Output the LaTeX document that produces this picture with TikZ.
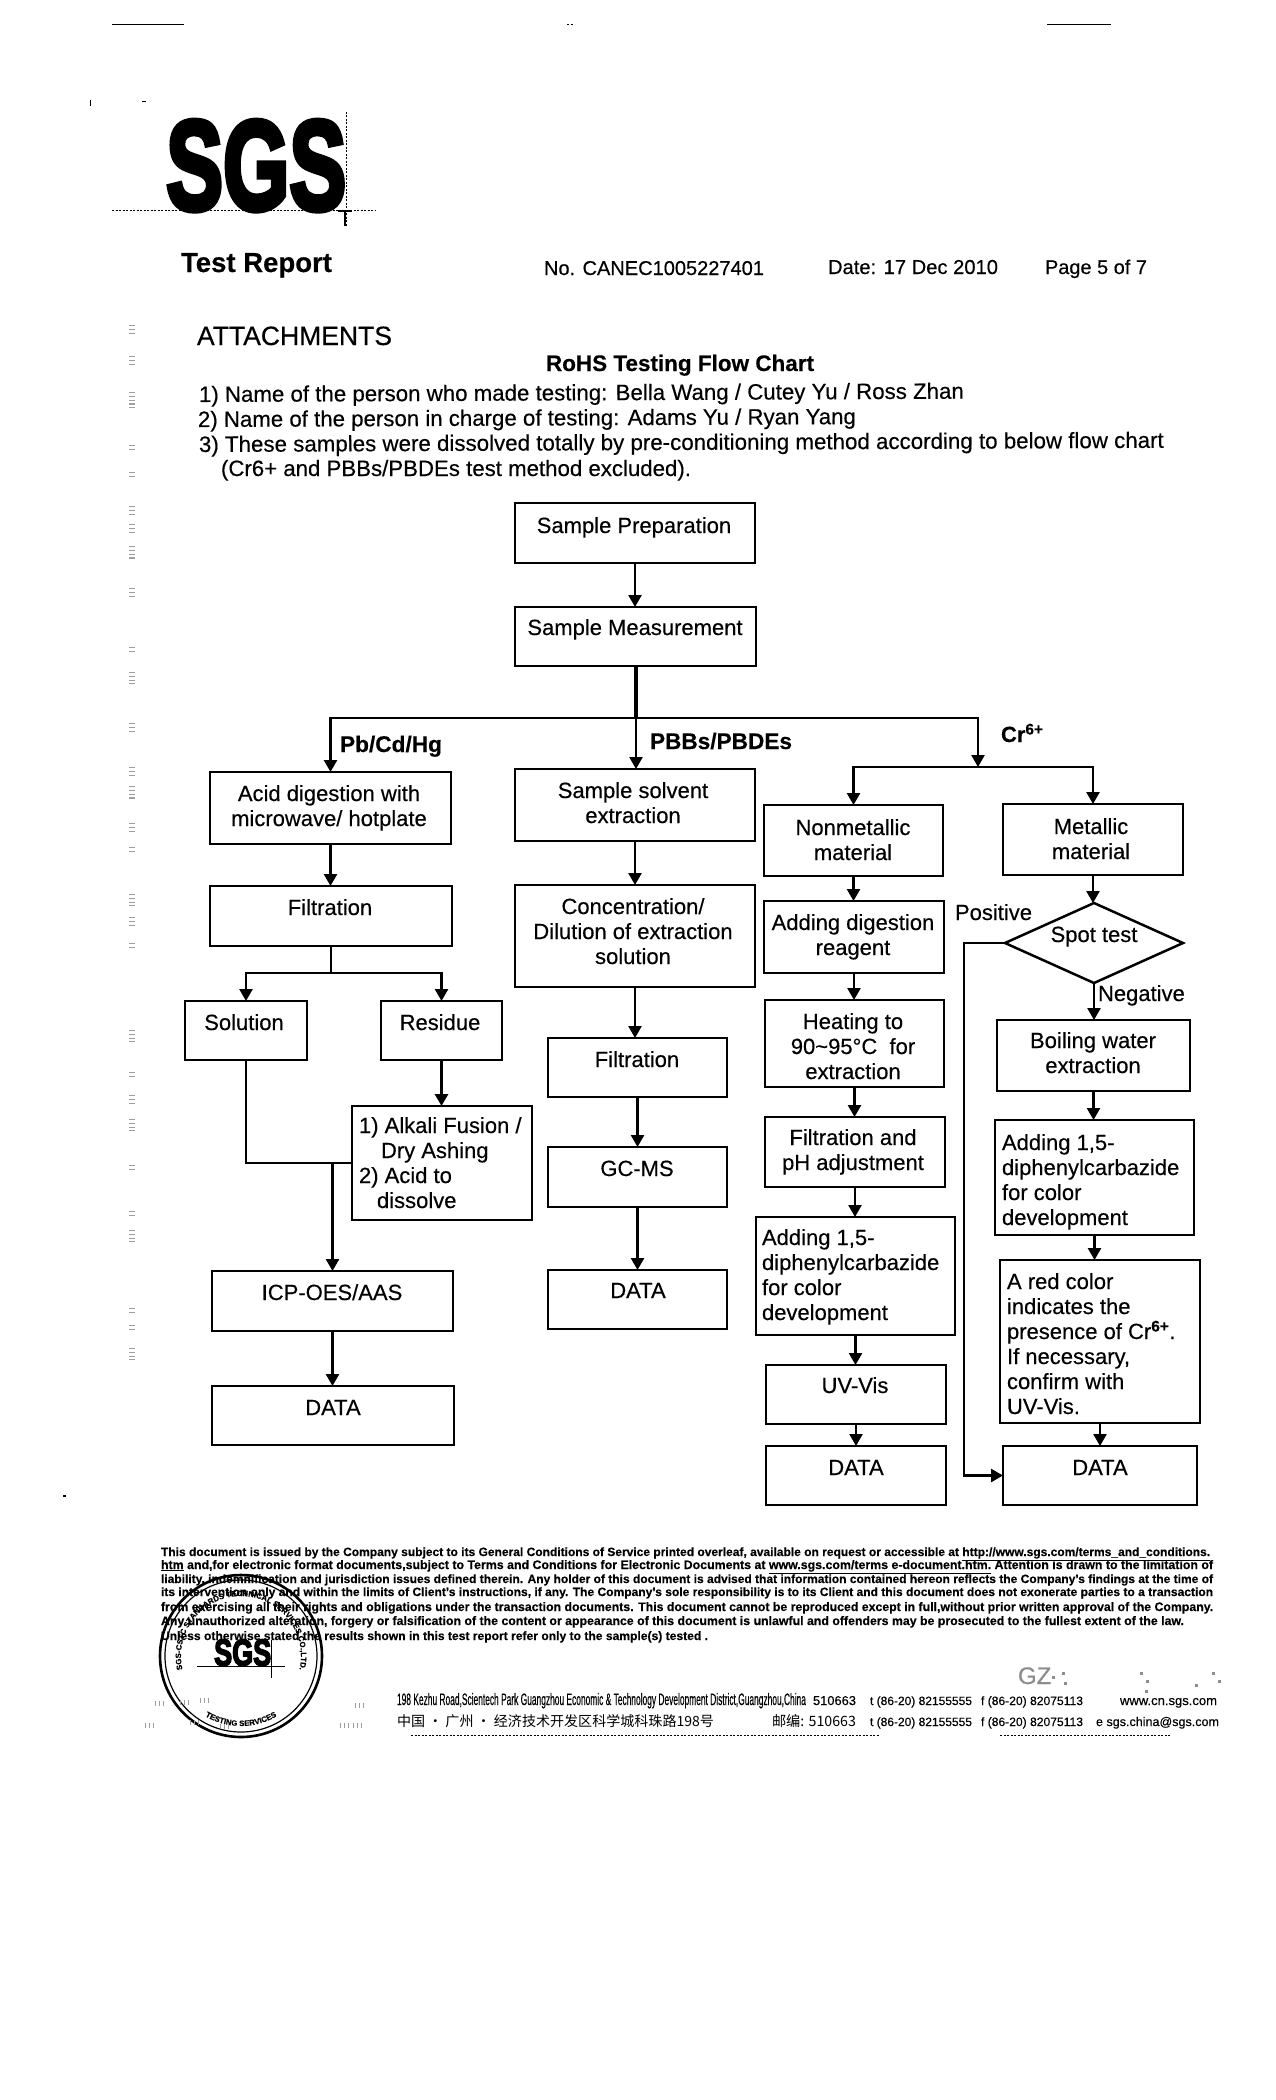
\documentclass[tikz,border=0pt]{standalone}
\usepackage{fontspec}
\usepackage{graphicx}
\usetikzlibrary{arrows.meta,shapes.geometric,decorations.text}
\setmainfont{Liberation Sans}[FakeBold=0.35,BoldFeatures={FakeBold=0.35}]
\newfontfamily\cjkfont{Noto Sans CJK SC}
\newfontfamily\logofont{Liberation Sans}[BoldFeatures={FakeBold=4.5}]
\newcommand\fitw[2]{\resizebox{#1pt}{!}{#2}}
\newcommand\stampfont{\fontsize{7.8}{9}\selectfont\bfseries}
\tikzset{
  flowbox/.style={draw=black,line width=2.5pt,inner sep=0pt,outer sep=0pt,rectangle,font=\fontsize{22}{25}\selectfont},
  conn/.style={draw=black,line width=2.5pt},
  arr/.style={conn,-{Triangle[width=13pt,length=12pt]}},
  txt/.style={inner sep=0pt,outer sep=0pt,anchor=base west,font=\fontsize{20}{24}\selectfont},
  lab/.style={txt,font=\fontsize{22}{25}\selectfont},
  blab/.style={txt,font=\fontsize{22}{25}\selectfont\bfseries},
  foot/.style={txt,font=\fontsize{11}{13}\selectfont\bfseries},
  addr/.style={txt,font=\fontsize{13}{15}\selectfont},
  speck/.style={draw=black!38,line width=6pt,dash pattern=on 1.2pt off 2.6pt},
  thinmark/.style={draw=black,line width=1pt},
  dotmark/.style={draw=black,line width=1pt,dash pattern=on 2pt off 1.5pt}
}
% name x1 y1 x2 y2 textcentre firstbaseline text
\newcommand\cbox[8]{%
  \pgfmathsetmacro\bw{#4-#2}\pgfmathsetmacro\bh{#5-#3}%
  \pgfmathsetmacro\bx{(#2+#4)/2}\pgfmathsetmacro\by{(#3+#5)/2}%
  \pgfmathsetmacro\dx{#6-\bx}\pgfmathsetmacro\dy{\by-#7}%
  \node[flowbox,minimum width=\bw pt,minimum height=\bh pt] (#1) at (\bx,\by)
    {\smash{\raisebox{\dy pt}{\kern\dx pt\parbox[t]{\bw pt}{\centering #8}\kern-\dx pt}}};}
% name x1 y1 x2 y2 textleft firstbaseline text
\newcommand\lbox[8]{%
  \pgfmathsetmacro\bw{#4-#2}\pgfmathsetmacro\bh{#5-#3}%
  \pgfmathsetmacro\bx{(#2+#4)/2}\pgfmathsetmacro\by{(#3+#5)/2}%
  \pgfmathsetmacro\dx{#6-#2}\pgfmathsetmacro\dy{\by-#7}%
  \node[flowbox,minimum width=\bw pt,minimum height=\bh pt] (#1) at (\bx,\by)
    {\smash{\raisebox{\dy pt}{\kern\dx pt\parbox[t]{\bw pt}{\raggedright #8}\kern-\dx pt}}};}
\begin{document}
\begin{tikzpicture}[x=1pt,y=-1pt]
\useasboundingbox (0,0) rectangle (1275,2100);
\fill[white] (0,0) rectangle (1275,2100);
% top marks
\draw[thinmark] (112,25) -- (184,25);
\draw[thinmark] (1047,25) -- (1111,25);
\draw[dotmark] (567,25) -- (573,25);
\draw[thinmark] (90,100) -- (90,106);
\draw[thinmark] (142,102) -- (146,102);
% logo
\node[inner sep=0pt,anchor=south west] (logo) at (166,211) {\resizebox{180pt}{89pt}{\logofont\bfseries SGS}};
\draw[dotmark] (112,211) -- (375,211);
\draw[dotmark,line width=.8pt] (346,112) -- (346,226);
\draw[thinmark,line width=1.6pt] (338,211) -- (352,211);
\draw[thinmark,line width=1.6pt] (345,211) -- (345,226);
% header text
\node[txt,font=\fontsize{27}{30}\selectfont\bfseries] (title) at (181,272) {\fitw{151}{Test Report}};
\node[txt] (rno) at (544,275) {\fitw{220}{No. CANEC1005227401}};
\node[txt] (rdate) at (828,274) {\fitw{170}{Date: 17 Dec 2010}};
\node[txt] (rpage) at (1045,274) {\fitw{102}{Page 5 of 7}};
\node[txt] (att) at (197,345) {\fitw{195}{ATTACHMENTS}};
\node[txt,font=\fontsize{22}{25}\selectfont\bfseries] (rohs) at (546,371) {\fitw{268}{RoHS Testing Flow Chart}};
\node[txt,rotate=0.25] (l1) at (199,402) {\fitw{765}{1) Name of the person who made testing: Bella Wang / Cutey Yu / Ross Zhan}};
\node[txt,rotate=0.25] (l2) at (198,427) {\fitw{658}{2) Name of the person in charge of testing: Adams Yu / Ryan Yang}};
\node[txt,rotate=0.25] (l3) at (199,452) {\fitw{965}{3) These samples were dissolved totally by pre-conditioning method according to below flow chart}};
\node[txt] (l4) at (221,476) {\fitw{470}{(Cr6+ and PBBs/PBDEs test method excluded).}};
% flow boxes
\cbox{sp}{515}{503}{755}{563}{634}{533}{Sample Preparation}
\cbox{sm}{515}{607}{756}{666}{635}{635}{Sample Measurement}
\cbox{acid}{210}{772}{451}{844}{329}{801}{Acid digestion with\\microwave/ hotplate}
\cbox{fa}{210}{886}{452}{946}{330}{915}{Filtration}
\cbox{sol}{185}{1001}{307}{1060}{244}{1030}{Solution}
\cbox{res}{381}{1001}{502}{1060}{440}{1030}{Residue}
\lbox{alk}{352}{1106}{532}{1220}{359}{1133}{1) Alkali Fusion /\\\hspace*{22pt}Dry Ashing\\2) Acid to\\\hspace*{18pt}dissolve}
\cbox{icp}{212}{1271}{453}{1331}{332}{1300}{ICP-OES/AAS}
\cbox{da}{212}{1386}{454}{1445}{333}{1415}{DATA}
\cbox{ss}{515}{769}{755}{841}{633}{798}{Sample solvent\\extraction}
\cbox{conc}{515}{885}{755}{987}{633}{914}{Concentration/\\Dilution of extraction\\solution}
\cbox{fb}{548}{1038}{727}{1097}{637}{1067}{Filtration}
\cbox{gc}{548}{1147}{727}{1207}{637}{1176}{GC-MS}
\cbox{db}{548}{1270}{727}{1329}{638}{1298}{DATA}
\cbox{nm}{764}{805}{943}{876}{853}{835}{Nonmetallic\\material}
\cbox{ad}{764}{901}{944}{973}{853}{930}{Adding digestion\\reagent}
\cbox{heat}{765}{1000}{944}{1087}{853}{1029}{Heating to\\90\textasciitilde95°C\ \ for\\extraction}
\cbox{ph}{765}{1117}{945}{1187}{853}{1145}{Filtration and\\pH adjustment}
\lbox{dpl}{756}{1217}{955}{1335}{762}{1245}{Adding 1,5-\\diphenylcarbazide\\for color\\development}
\cbox{uv}{766}{1365}{946}{1424}{855}{1393}{UV-Vis}
\cbox{dc}{766}{1446}{946}{1505}{856}{1475}{DATA}
\cbox{met}{1003}{804}{1183}{875}{1091}{834}{Metallic\\material}
\node[flowbox,shape=diamond,aspect=2.24,minimum width=178pt,minimum height=80pt] (spot) at (1094,943)
  {\smash{\raisebox{1pt}{Spot test}}};
\cbox{boil}{997}{1020}{1190}{1091}{1093}{1048}{Boiling water\\extraction}
\lbox{dpr}{995}{1120}{1194}{1235}{1002}{1150}{Adding 1,5-\\diphenylcarbazide\\for color\\development}
\lbox{red}{1000}{1260}{1200}{1423}{1007}{1289}{A red color\\indicates the\\presence of Cr\textsuperscript{\textbf{6+}}.\\If necessary,\\confirm with\\UV-Vis.}
\cbox{dd}{1003}{1446}{1197}{1505}{1100}{1475}{DATA}
% branch labels
\node[blab] (lpb) at (340,752) {\fitw{102}{Pb/Cd/Hg}};
\node[blab] (lpbb) at (650,749) {\fitw{142}{PBBs/PBDEs}};
\node[blab] (lcr) at (1001,742) {Cr\textsuperscript{6+}};
\node[lab] (lpos) at (955,920) {Positive};
\node[lab] (lneg) at (1098,1001) {Negative};
% connectors
\coordinate (j1) at (636,718);
\coordinate (cr) at (978,767);
\coordinate (j2) at (332,973);
\coordinate (jn) at (333,1163);
\coordinate (fbk) at (964,943);
\draw[arr] (sp.south) -- (sp.south |- sm.north);
\draw[conn,line width=4pt] (sm.south) -- (sm.south |- j1);
\draw[arr] (j1) -| (acid.north);
\draw[arr] (j1) -- (j1 |- ss.north);
\draw[arr] (j1) -| (cr);
\draw[arr] (cr) -| (nm.north);
\draw[arr] (cr) -| (met.north);
\draw[arr] (acid.south) -- (acid.south |- fa.north);
\draw[conn] (fa.south) -- (fa.south |- j2);
\draw[arr] (j2) -| (sol.north);
\draw[arr] (j2) -| (res.north);
\draw[arr,line width=3pt] (res.south) -- (res.south |- alk.north);
\draw[conn] (sol.south) |- (jn);
\draw[arr] (alk.west) -| (icp.north);
\draw[arr] (icp.south) -- (icp.south |- da.north);
\draw[arr] (ss.south) -- (ss.south |- conc.north);
\draw[arr] (conc.south) -- (conc.south |- fb.north);
\draw[arr] (fb.south) -- (fb.south |- gc.north);
\draw[arr] (gc.south) -- (gc.south |- db.north);
\draw[arr] (nm.south) -- (nm.south |- ad.north);
\draw[arr] (ad.south) -- (ad.south |- heat.north);
\draw[arr] (heat.south) -- (heat.south |- ph.north);
\draw[arr] (ph.south) -- (ph.south |- dpl.north);
\draw[arr] (dpl.south) -- (dpl.south |- uv.north);
\draw[arr] (uv.south) -- (uv.south |- dc.north);
\draw[arr] (met.south) -- (met.south |- spot.north);
\draw[arr] (spot.south) -- (spot.south |- boil.north);
\draw[arr] (boil.south) -- (boil.south |- dpr.north);
\draw[arr] (dpr.south) -- (dpr.south |- red.north);
\draw[arr] (red.south) -- (red.south |- dd.north);
\draw[arr] (spot.west) -- (fbk) |- (dd.west);
% footer
\node[foot] (f1) at (161,1556) {\fitw{1049}{This document is issued by the Company subject to its General Conditions of Service printed overleaf, available on request or accessible at \underline{http://www.sgs.com/terms\_and\_conditions.}}};
\node[foot] (f2) at (161,1569) {\fitw{1052}{\underline{htm} and,for electronic format documents,subject to Terms and Conditions for Electronic Documents at \underline{www.sgs.com/terms e-document.htm.} Attention is drawn to the limitation of}};
\node[foot] (f3) at (161,1583) {\fitw{1052}{liability, indemnification and jurisdiction issues defined therein. Any holder of this document is advised that information contained hereon reflects the Company's findings at the time of}};
\node[foot] (f4) at (161,1596) {\fitw{1052}{its intervention only and within the limits of Client's instructions, if any. The Company's sole responsibility is to its Client and this document does not exonerate parties to a transaction}};
\node[foot] (f5) at (161,1611) {\fitw{1052}{from exercising all their rights and obligations under the transaction documents. This document cannot be reproduced except in full,without prior written approval of the Company.}};
\node[foot] (f6) at (161,1625) {\fitw{1023}{Any unauthorized alteration, forgery or falsification of the content or appearance of this document is unlawful and offenders may be prosecuted to the fullest extent of the law.}};
\node[foot] (f7) at (161,1640) {\fitw{547}{Unless otherwise stated the results shown in this test report refer only to the sample(s) tested .}};
% stamp
\draw[line width=2.6pt] (241,1656) circle[radius=81pt];
\draw[line width=1.2pt] (241,1656) circle[radius=76pt];
\begin{scope}[shift={(241,1656)},x=1pt,y=1pt]
\path[decorate,decoration={text along path,text align=center,text={|\stampfont|SGS-CSTC STANDARDS TECHNICAL SERVICES CO.,LTD.}}]
  (215:60pt) arc[start angle=215,end angle=-35,radius=60pt];
\path[decorate,decoration={text along path,text align=center,text={|\stampfont|TESTING SERVICES}}]
  (215:70pt) arc[start angle=215,end angle=325,radius=70pt];
\end{scope}
\node[inner sep=0pt,anchor=south west] (slogo) at (214,1666) {\resizebox{57pt}{26pt}{\logofont\bfseries SGS}};
\draw[thinmark] (197,1666) -- (285,1666);
\draw[thinmark] (271,1640) -- (271,1678);
% address lines
\node[addr] (a1) at (397,1705) {\resizebox{409pt}{12pt}{198 Kezhu Road,Scientech Park Guangzhou Economic \& Technology Development District,Guangzhou,China}};
\node[addr] (a2) at (813,1705) {\fitw{43}{510663}};
\node[addr] (a3) at (870,1705) {\fitw{102}{t (86-20) 82155555}};
\node[addr] (a4) at (981,1705) {\fitw{102}{f (86-20) 82075113}};
\node[addr] (a5) at (1120,1705) {\fitw{97}{www.cn.sgs.com}};
\node[addr] (b1) at (397,1726) {\fitw{317}{\cjkfont 中国 · 广州 · 经济技术开发区科学城科珠路198号}};
\node[addr] (b2) at (772,1726) {\fitw{84}{\cjkfont 邮编: 510663}};
\node[addr] (b3) at (870,1726) {\fitw{102}{t (86-20) 82155555}};
\node[addr] (b4) at (981,1726) {\fitw{102}{f (86-20) 82075113}};
\node[addr] (b5) at (1096,1726) {\fitw{123}{e sgs.china@sgs.com}};
\draw[dotmark] (411,1735) -- (880,1735);
\draw[dotmark] (1000,1735) -- (1170,1735);
% faded scan residue
\node[txt,font=\fontsize{24}{26}\selectfont,text=black!45] (gz) at (1018,1684) {GZ};
\foreach \px/\py in {1052/1676,1062/1672,1064/1682,1140/1672,1146/1680,1145/1690,1195/1684,1212/1672,1218/1680}
  \fill[black!45] (\px,\py) rectangle +(3,3);
\foreach \py/\w in {330/5,360/4,400/8,448/3,475/3,511/5,528/4,553/7,593/5,650/3,678/6,728/5,771/4,793/7,828/5,850/3,900/6,921/4,946/3,1036/6,1075/3,1100/5,1125/6,1168/3,1214/3,1236/6,1311/3,1328/3,1354/6}
  \draw[speck] (132,\py-\w) -- (132,\py+\w);
\foreach \px/\py in {160/1703,185/1702,205/1700,150/1725,195/1722,225/1726,360/1705,345/1725,358/1725}
  \draw[speck,line width=5pt] (\px-5,\py) -- (\px+5,\py);
\fill (63,1495) rectangle +(3,2);
\end{tikzpicture}
\end{document}
